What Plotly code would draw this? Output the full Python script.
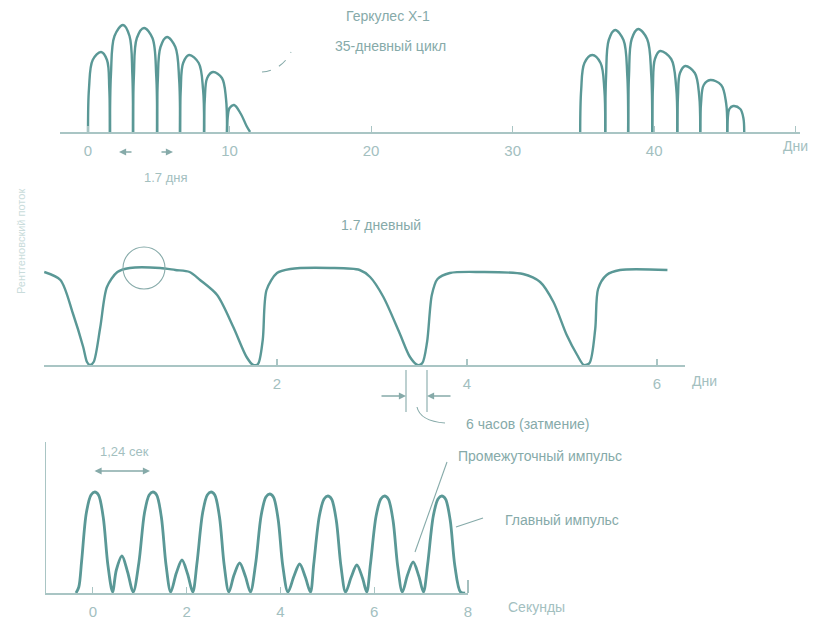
import plotly.graph_objects as go

W, H = 823, 619

# ---------------- DATA ----------------
# Panel 1: Hercules X-1, 35-day cycle (days, relative flux) — each arc listed separately
cycle_on1_days = [
    [0.00, 0.07, 0.33, 0.92, 1.34, 1.50, 1.55],
    [1.55, 1.62, 1.87, 2.47, 2.93, 3.13, 3.18],
    [3.18, 3.24, 3.45, 3.96, 4.55, 4.82, 4.88],
    [4.88, 4.93, 5.12, 5.58, 6.17, 6.44, 6.50],
    [6.50, 6.55, 6.72, 7.14, 7.82, 8.13, 8.20],
    [8.20, 8.25, 8.42, 8.83, 9.46, 9.75, 9.82],
    [9.82, 9.87, 10.00, 10.32, 10.80, 11.20, 11.45],
]
cycle_on1_flux = [
    [0, 44, 72, 80, 72, 44, 0],
    [0, 58, 96, 107, 96, 58, 0],
    [0, 56, 94, 104, 94, 56, 0],
    [0, 52, 85, 95, 85, 52, 0],
    [0, 42, 69, 77, 69, 42, 0],
    [0, 33, 54, 60, 54, 33, 0],
    [0, 15, 24, 27, 18, 6, 0],
]
cycle_on2_days = [
    [34.77, 34.84, 35.07, 35.62, 36.21, 36.48, 36.54],
    [36.54, 36.60, 36.79, 37.24, 37.83, 38.10, 38.16],
    [38.16, 38.22, 38.41, 38.87, 39.50, 39.79, 39.86],
    [39.86, 39.91, 40.05, 40.42, 41.20, 41.55, 41.63],
    [41.63, 41.68, 41.82, 42.19, 42.87, 43.18, 43.25],
    [43.25, 43.31, 43.50, 43.96, 44.73, 45.08, 45.16],
    [45.16, 45.20, 45.31, 45.58, 46.08, 46.30, 46.36],
]
cycle_on2_flux = [
    [0, 42, 69, 77, 69, 42, 0],
    [0, 56, 92, 102, 92, 56, 0],
    [0, 57, 93, 103, 93, 57, 0],
    [0, 45, 73, 81, 73, 45, 0],
    [0, 36, 59, 66, 59, 36, 0],
    [0, 29, 47, 52, 47, 29, 0],
    [0, 14, 23, 26, 23, 14, 0],
]
p1_tickvals = [0, 10, 20, 30, 40, 50]
p1_ticktext = ["0", "10", "20", "30", "40", ""]

# Panel 2: 1.7-day eclipse cycle (days, relative flux)
orbit_days = [-0.45, -0.28, -0.15, -0.04, 0.00, 0.03, 0.07, 0.14, 0.21, 0.32, 0.45, 0.77,
              0.93, 1.08, 1.19, 1.37, 1.54, 1.68, 1.75, 1.80, 1.85, 1.89, 2.00, 2.14,
              2.56, 2.87, 2.98, 3.12, 3.29, 3.40, 3.48, 3.53, 3.58, 3.63, 3.69, 3.82,
              4.14, 4.59, 4.77, 4.91, 5.05, 5.16, 5.23, 5.29, 5.35, 5.38, 5.47, 5.61, 6.11]
orbit_flux = [93, 85, 52, 18, 3, 0, 3, 38, 78, 93, 97, 97,
              95, 93, 85, 70, 38, 8, 0, 1, 25, 75, 92, 96,
              97, 95, 88, 68, 32, 8, 0, 2, 23, 70, 86, 92,
              93, 91, 83, 63, 30, 10, 0, 2, 36, 76, 90, 95, 95]
p2_tickvals = [2, 4, 6]
p2_ticktext = ["2", "4", "6"]

# Panel 3: 1.24-s pulsations (seconds, relative flux)
pulse_sec = [-0.36, -0.30, -0.24, -0.14, -0.04, 0.04, 0.12, 0.22, 0.32, 0.42,
             0.50, 0.62, 0.74, 0.86,
             0.98, 1.10, 1.20, 1.28, 1.36, 1.46, 1.56, 1.66,
             1.78, 1.90, 2.02, 2.13,
             2.22, 2.34, 2.44, 2.52, 2.60, 2.70, 2.80, 2.90,
             3.01, 3.13, 3.25, 3.36,
             3.47, 3.59, 3.69, 3.77, 3.85, 3.95, 4.05, 4.16,
             4.29, 4.41, 4.53, 4.64,
             4.71, 4.83, 4.93, 5.01, 5.09, 5.19, 5.29, 5.39,
             5.51, 5.63, 5.75, 5.84,
             5.92, 6.04, 6.14, 6.22, 6.30, 6.40, 6.50, 6.60,
             6.71, 6.83, 6.95, 7.05,
             7.14, 7.26, 7.36, 7.44, 7.52, 7.62, 7.72, 7.84, 7.94]
pulse_flux = [0, 6, 32, 80, 98, 101, 98, 76, 28, 1,
              23, 37, 21, 1,
              30, 80, 98, 101, 98, 76, 28, 1,
              20, 33, 19, 1,
              30, 80, 98, 101, 98, 76, 28, 1,
              18, 30, 17, 1,
              29, 78, 96, 99, 96, 74, 27, 1,
              17, 29, 16, 1,
              29, 77, 94, 97, 94, 73, 27, 1,
              16, 28, 15, 1,
              29, 77, 94, 97, 94, 73, 27, 1,
              18, 31, 17, 1,
              29, 77, 94, 97, 94, 73, 27, 1, 0]
p3_tickvals = [0, 2, 4, 6, 8]
p3_ticktext = ["0", "2", "4", "6", "8"]

# ---------------- STYLE ----------------
CURVE = "#5a9896"
AXIS = "#a9c5c4"
TXT = "#86aaa9"
TICKTXT = "#a3c0bf"
FONT = "Liberation Sans"


def px(x):
    return x / W


def py(y):
    return 1 - y / H


def join_arcs(xs, ys):
    X, Y = [], []
    for a, b in zip(xs, ys):
        X += a + [None]
        Y += b + [None]
    return X, Y


fig = go.Figure()

x1a, y1a = join_arcs(cycle_on1_days, cycle_on1_flux)
x1b, y1b = join_arcs(cycle_on2_days, cycle_on2_flux)
fig.add_trace(go.Scatter(x=x1a + x1b, y=y1a + y1b, mode="lines",
                         line=dict(color=CURVE, width=2.4, shape="spline", smoothing=1.0),
                         connectgaps=False, xaxis="x", yaxis="y", hoverinfo="skip"))
fig.add_trace(go.Scatter(x=orbit_days, y=orbit_flux, mode="lines",
                         line=dict(color=CURVE, width=2.4, shape="spline", smoothing=0.8),
                         xaxis="x2", yaxis="y2", hoverinfo="skip"))
fig.add_trace(go.Scatter(x=pulse_sec, y=pulse_flux, mode="lines",
                         line=dict(color=CURVE, width=2.8, shape="spline", smoothing=0.9),
                         xaxis="x3", yaxis="y3", hoverinfo="skip"))

xcommon = dict(showline=True, linecolor=AXIS, linewidth=1.5, showgrid=False, zeroline=False,
               ticks="inside", ticklen=6, tickcolor=AXIS, tickwidth=1.2,
               tickfont=dict(family=FONT, size=15, color=TICKTXT), ticklabelstandoff=4,
               fixedrange=True, automargin=False)
ycommon = dict(showgrid=False, zeroline=False, showticklabels=False, ticks="", fixedrange=True,
               automargin=False)

fig.update_layout(
    width=W, height=H, autosize=False,
    margin=dict(l=0, r=0, t=0, b=0, pad=0),
    paper_bgcolor="white", plot_bgcolor="white",
    showlegend=False,
    xaxis=dict(domain=[px(60), px(800)], range=[-1.98, 50.3], anchor="y",
               tickvals=p1_tickvals, ticktext=p1_ticktext, **xcommon),
    yaxis=dict(domain=[py(132), py(5)], range=[0, 127], anchor="x", showline=False, **ycommon),
    xaxis2=dict(domain=[px(44), px(685)], range=[-0.4526, 6.295], anchor="y2",
                tickvals=p2_tickvals, ticktext=p2_ticktext, **xcommon),
    yaxis2=dict(domain=[py(365), py(250)], range=[0, 115], anchor="x2", showline=False, **ycommon),
    xaxis3=dict(domain=[px(46), px(468)], range=[-1, 8], anchor="y3",
                tickvals=p3_tickvals, ticktext=p3_ticktext, **xcommon),
    yaxis3=dict(domain=[py(593), py(442)], range=[0, 151], anchor="x3",
                showline=True, linecolor=AXIS, linewidth=1.5, **ycommon),
)


def label(x, y, text, size=14, color=TXT, angle=0):
    fig.add_annotation(x=px(x), y=py(y), xref="paper", yref="paper", text=text,
                       showarrow=False, textangle=angle, xanchor="center", yanchor="middle",
                       font=dict(family=FONT, size=size, color=color))


def arrow(hx, hy, ax, ay, both=False):
    fig.add_annotation(x=px(hx), y=py(hy), xref="paper", yref="paper", text="",
                       showarrow=True, ax=ax, ay=ay, arrowhead=2, arrowsize=1.1,
                       arrowwidth=1.3, arrowcolor=TXT,
                       arrowside="end+start" if both else "end", startarrowhead=2)


def line(x0, y0, x1, y1, dash="solid", w=1.1):
    fig.add_shape(type="line", xref="paper", yref="paper", x0=px(x0), y0=py(y0),
                  x1=px(x1), y1=py(y1), line=dict(color=TXT, width=w, dash=dash))


def path(d, dash="solid"):
    fig.add_shape(type="path", xref="paper", yref="paper", path=d,
                  line=dict(color=TXT, width=1.1, dash=dash))


# Panel 1 texts
label(388, 16, "Геркулес X-1", 14)
label(390, 46, "35-дневный цикл", 14)
label(166, 177, "1.7 дня", 13, TICKTXT)
label(795, 146, "Дни", 14, TICKTXT)
arrow(119, 152, 14, 0)
arrow(173, 152, -13, 0)
path(f"M {px(262)},{py(72)} Q {px(282)},{py(70)} {px(291)},{py(52)}", dash="dash")

# Panel 2 texts
label(381, 225, "1.7 дневный", 14)
label(704, 381, "Дни", 14, TICKTXT)
label(527, 424, "6 часов (затмение)", 14)
fig.add_shape(type="circle", xref="paper", yref="paper",
              x0=px(123), x1=px(165), y0=py(289), y1=py(247),
              line=dict(color=TXT, width=1.1))
line(406, 370, 406, 412)
line(427, 370, 427, 412)
arrow(406, 396, -26, 0)
arrow(427, 396, 25, 0)
path(f"M {px(417)},{py(407)} Q {px(420)},{py(421)} {px(445)},{py(423)}")

# Panel 3 texts
label(124, 451, "1,24 сек", 13, TICKTXT)
arrow(150, 471, -57, 0, both=True)
label(540, 456, "Промежуточный импульс", 14)
line(447, 462, 415, 552)
label(562, 520, "Главный импульс", 14)
line(483, 518, 456, 527)
label(536, 607, "Секунды", 14, TICKTXT)
line(468, 593, 468, 580, w=1.5)

# Y label (faint)
label(21, 242, "Рентгеновский поток", 11, "#c9dcdb", angle=-90)

fig.write_html("out.html",
               config={"displayModeBar": False, "staticPlot": True},
               post_script="document.body.style.margin='0';document.body.style.overflow='hidden';")
